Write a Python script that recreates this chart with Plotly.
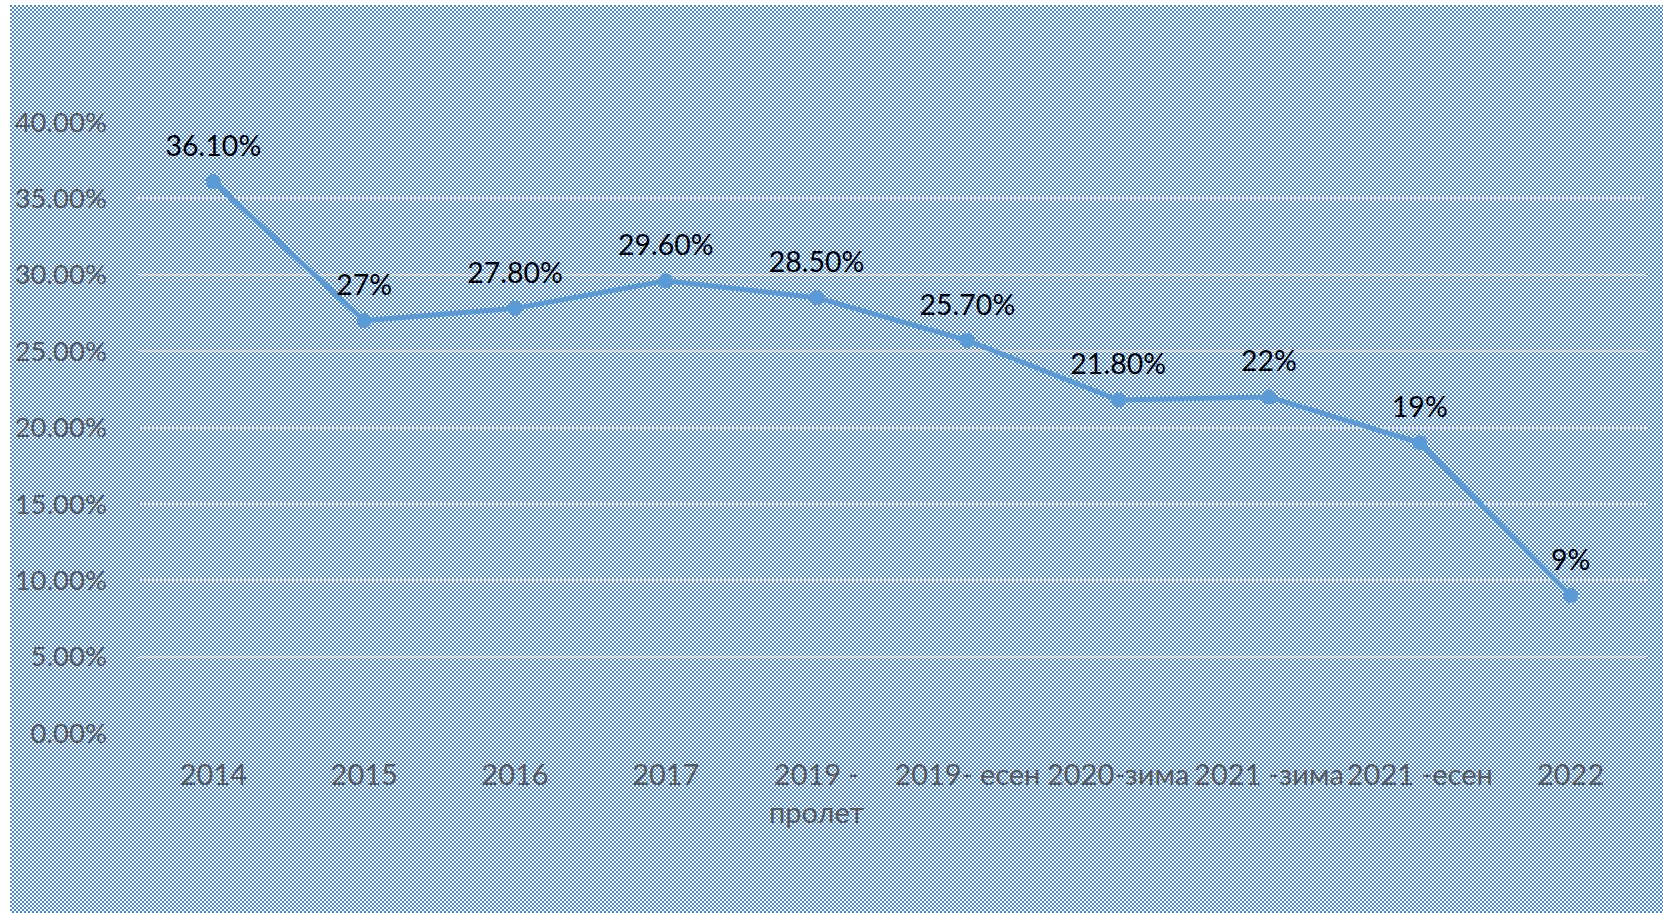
import base64
import plotly.graph_objects as go

categories = ["2014", "2015", "2016", "2017", "2019 -<br>пролет", "2019- есен",
              "2020-зима", "2021 -зима", "2021 -есен", "2022"]
values = [0.361, 0.27, 0.278, 0.296, 0.285, 0.257, 0.218, 0.22, 0.19, 0.09]
value_labels = ["36.10%", "27%", "27.80%", "29.60%", "28.50%", "25.70%",
                "21.80%", "22%", "19%", "9%"]
y_ticks = [0, 0.05, 0.10, 0.15, 0.20, 0.25, 0.30, 0.35, 0.40]

W, H = 1663, 913
ML, MR, MT, MB = 138, 17, 122, 180
PW, PH = W - ML - MR, H - MT - MB

FONT = "Lato, 'Noto Sans', sans-serif"
BLUE = "#4a88d4"

# checkerboard background (2px cells)
img_w, img_h = W - 10, H - 5
svg = (
    f'<svg xmlns="http://www.w3.org/2000/svg" width="{img_w}" height="{img_h}" '
    f'viewBox="0 0 {img_w} {img_h}" preserveAspectRatio="none" shape-rendering="crispEdges">'
    '<defs><pattern id="p" width="4" height="4" patternUnits="userSpaceOnUse">'
    '<rect width="4" height="4" fill="#ffffff"/>'
    f'<rect width="2" height="2" fill="{BLUE}"/>'
    f'<rect x="2" y="2" width="2" height="2" fill="{BLUE}"/>'
    '</pattern></defs>'
    f'<rect width="{img_w}" height="{img_h}" fill="url(#p)"/></svg>'
)
src = "data:image/svg+xml;base64," + base64.b64encode(svg.encode()).decode()

fig = go.Figure()
fig.add_trace(go.Scatter(
    x=categories, y=values, mode="lines+markers",
    line=dict(color="#5b9bd5", width=5),
    marker=dict(color="#5b9bd5", size=15),
    cliponaxis=False, hoverinfo="skip",
))
# data labels (transparent larger markers push the text up)
fig.add_trace(go.Scatter(
    x=categories, y=values, mode="markers+text",
    text=value_labels, textposition="top center",
    textfont=dict(family=FONT, size=28.5, color="#000000"),
    marker=dict(color="rgba(0,0,0,0)", size=28),
    cliponaxis=False, hoverinfo="skip",
))

fig.add_layout_image(dict(
    source=src, xref="paper", yref="paper",
    x=(10 - ML) / PW, y=(H - MB - 5) / PH,
    sizex=img_w / PW, sizey=img_h / PH,
    xanchor="left", yanchor="top", sizing="stretch", layer="below",
))

fig.update_layout(
    width=W, height=H,
    margin=dict(l=ML, r=MR, t=MT, b=MB),
    paper_bgcolor="#ffffff",
    plot_bgcolor="rgba(0,0,0,0)",
    showlegend=False,
    font=dict(family=FONT, size=27, color="#595959"),
    xaxis=dict(
        type="category", showgrid=False, zeroline=False, showline=False,
        ticks="", tickfont=dict(family=FONT, size=29, color="#595959"),
        ticklabelstandoff=22, range=[-0.5, 9.5],
    ),
    yaxis=dict(
        range=[0, 0.4], tickvals=y_ticks, tickformat=".2%",
        showgrid=True, gridcolor="#d9d9d9", gridwidth=2,
        zeroline=False, showline=False, ticks="",
        tickfont=dict(family=FONT, size=27.5, color="#595959"),
        ticklabelstandoff=30,
    ),
)

fig.write_html("out.html", config={"displayModeBar": False},
               post_script="document.body.style.margin='0';")
